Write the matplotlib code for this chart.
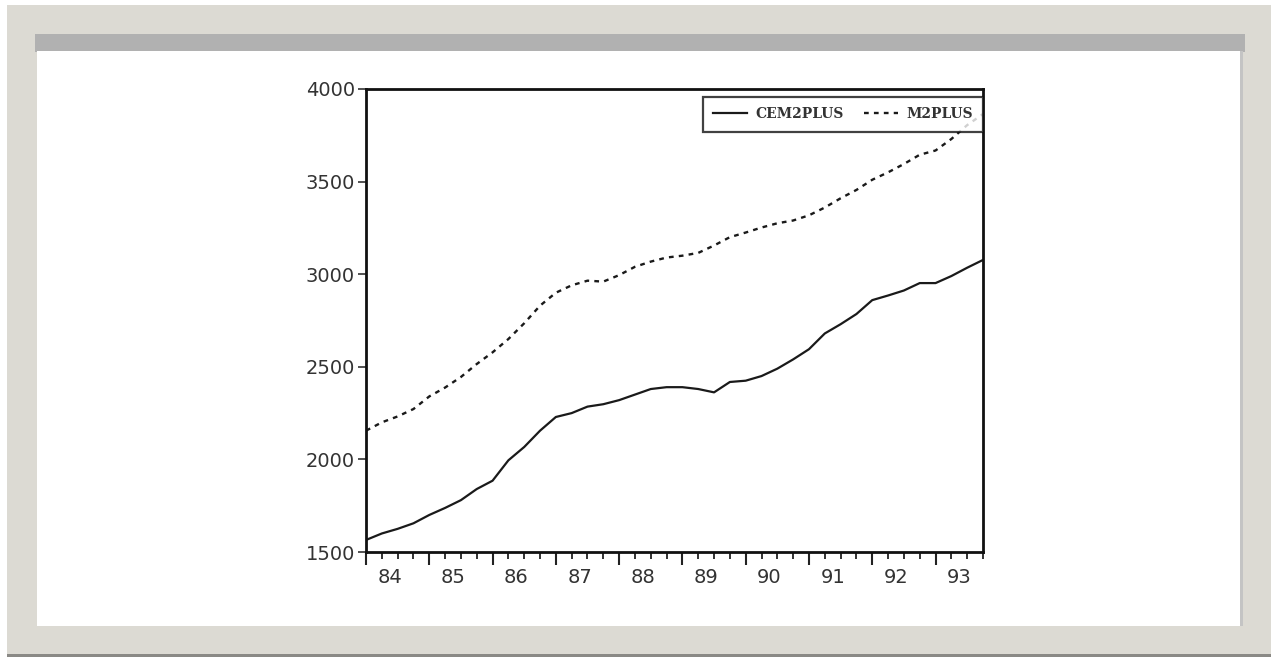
import numpy as np
import matplotlib
matplotlib.use("Agg")
import matplotlib.pyplot as plt
from matplotlib.patches import Rectangle

# Quarterly series, 1984Q1 - 1993Q4
quarters = 1984 + np.arange(40) / 4.0
cem2plus = [1565, 1600, 1625, 1655, 1700, 1738, 1780, 1840, 1885, 1995,
            2067, 2155, 2229, 2250, 2285, 2298, 2320, 2350, 2380, 2390,
            2390, 2380, 2362, 2418, 2425, 2450, 2490, 2540, 2595, 2680,
            2730, 2785, 2860, 2885, 2912, 2952, 2952, 2990, 3035, 3077]
m2plus = [2155, 2200, 2232, 2272, 2340, 2388, 2445, 2515, 2578, 2650,
          2735, 2830, 2900, 2940, 2965, 2960, 2995, 3040, 3068, 3090,
          3100, 3115, 3155, 3200, 3225, 3252, 3275, 3290, 3318, 3360,
          3410, 3455, 3510, 3550, 3595, 3645, 3668, 3730, 3805, 3865]
year_labels = ['84', '85', '86', '87', '88', '89', '90', '91', '92', '93']
y_ticks = [1500, 2000, 2500, 3000, 3500, 4000]

W, H = 1277, 658
fig = plt.figure(figsize=(W / 100, H / 100), dpi=100)

# picture frame around the scan
bg = fig.add_axes([0, 0, 1, 1])
bg.set_xlim(0, W)
bg.set_ylim(H, 0)
bg.axis('off')
bg.add_patch(Rectangle((7, 5), 1264, 651, facecolor='#dcdad3', edgecolor='none'))
bg.add_patch(Rectangle((7, 654), 1264, 3, facecolor='#8a8985', edgecolor='none'))
bg.add_patch(Rectangle((35, 34), 1210, 18, facecolor='#b1b1b1', edgecolor='none'))
bg.add_patch(Rectangle((37, 51), 1206, 575, facecolor='white', edgecolor='none'))
bg.add_patch(Rectangle((1240, 51), 3, 575, facecolor='#c4c4c4', edgecolor='none'))

ax = fig.add_axes([366 / W, 1 - 552 / H, (983 - 366) / W, (552 - 89) / H])
ax.set_facecolor('white')

ax.plot(quarters, cem2plus, color='#1a1a1a', lw=1.6, label='CEM2PLUS')
ax.plot(quarters, m2plus, color='#1a1a1a', lw=1.7, linestyle=(0, (2.0, 2.2)),
        label='M2PLUS')

ax.set_xlim(quarters[0], quarters[-1])
ax.set_ylim(1500, 4000)

for sp in ax.spines.values():
    sp.set_linewidth(2.0)
    sp.set_color('#111111')

ax.set_yticks(y_ticks)
ax.set_yticklabels([str(v) for v in y_ticks])
ax.tick_params(axis='y', direction='out', length=6, width=1.2, pad=2,
               labelsize=14, labelcolor='#333333', colors='#333333')

years = np.arange(1984, 1994)
ax.set_xticks(years)
ax.set_xticklabels([])
ax.set_xticks(quarters, minor=True)
ax.tick_params(axis='x', which='major', direction='out', length=9, width=1.5,
               colors='#222222')
ax.tick_params(axis='x', which='minor', direction='out', length=5, width=1.3,
               colors='#222222')

for yr, lab in zip(years, year_labels):
    ax.text(yr + 0.375, -0.055, lab, transform=ax.get_xaxis_transform(),
            ha='center', va='center', fontsize=14, color='#333333')

leg = ax.legend(loc='upper right', bbox_to_anchor=(1.0, 0.983), ncol=2,
                frameon=True, fancybox=False, edgecolor='#111111',
                borderaxespad=0, borderpad=0.75, handlelength=2.4,
                handletextpad=0.6, columnspacing=1.5,
                prop={'family': 'DejaVu Serif', 'size': 10, 'weight': 'bold'})
leg.get_frame().set_linewidth(1.6)
for t in leg.get_texts():
    t.set_color('#333333')

fig.savefig('out.png', dpi=100)
